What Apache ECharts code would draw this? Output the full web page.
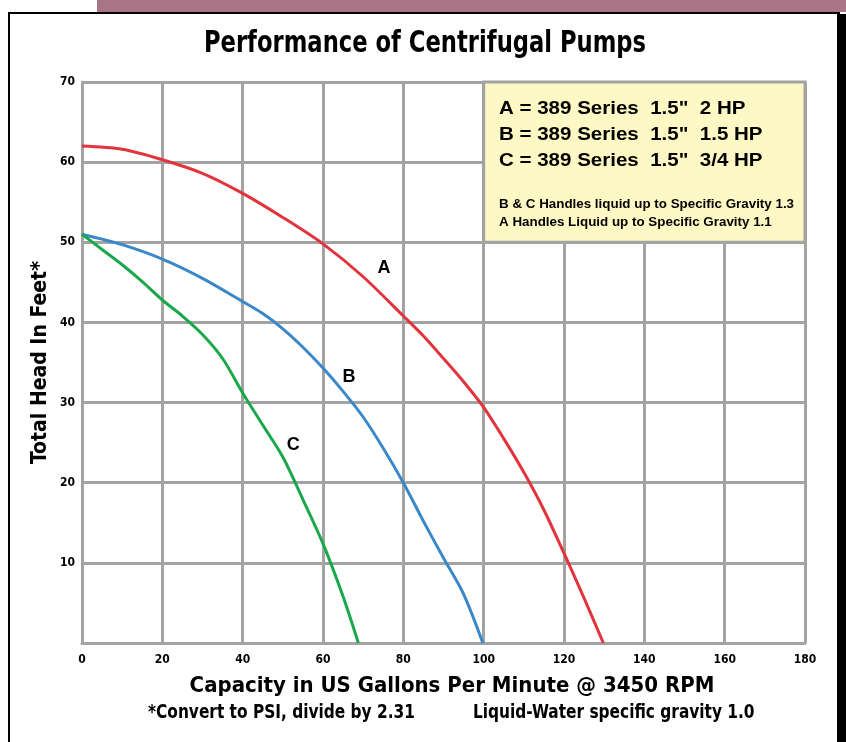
<!DOCTYPE html>
<html><head><meta charset="utf-8">
<script src="https://cdn.jsdelivr.net/npm/echarts@6/dist/echarts.min.js"></script>
<style>html,body{margin:0;padding:0;background:#fff}#c{width:846px;height:742px}</style>
</head><body><div id="c"></div><script>
// ---- data ----
const capA = [0, 10, 20, 30, 40, 50, 60, 70, 80, 85, 90, 95, 100, 105, 110, 115, 120, 125, 129.8];
const headA = [62.0, 61.6, 60.3, 58.6, 56.1, 53.1, 49.8, 45.7, 40.8, 38.3, 35.5, 32.6, 29.4, 25.5, 21.3, 16.6, 11.2, 5.6, 0];
const capB = [0, 10, 20, 30, 40, 45, 50, 55, 60, 65, 70, 75, 80, 85, 90, 95, 99.8];
const headB = [51.0, 49.7, 47.9, 45.5, 42.6, 41.1, 39.2, 36.9, 34.3, 31.4, 28.2, 24.3, 20.0, 15.2, 10.6, 6.1, 0];
const capC = [0, 5, 10, 15, 20, 25, 30, 35, 40, 45, 50, 55, 60, 65, 68.8];
const headC = [51.0, 49.1, 47.2, 45.1, 42.8, 40.8, 38.5, 35.5, 31.2, 27.2, 23.2, 17.9, 12.4, 5.8, 0];
const curveNames = ['A', 'B', 'C'];
const curveLabelPos = [[75.2, 46.8], [66.5, 33.2], [52.6, 24.7]];
const xTicks = [0, 20, 40, 60, 80, 100, 120, 140, 160, 180];
const yTicks = [0, 10, 20, 30, 40, 50, 60, 70];
const legendLines = ['A = 389 Series  1.5"  2 HP', 'B = 389 Series  1.5"  1.5 HP', 'C = 389 Series  1.5"  3/4 HP'];
const noteLines = ['B & C Handles liquid up to Specific Gravity 1.3', 'A Handles Liquid up to Specific Gravity 1.1'];
const boxRange = [[100, 50], [180, 70]];
const titleText = 'Performance of Centrifugal Pumps';
const xName = 'Capacity in US Gallons Per Minute @ 3450 RPM';
const yName = 'Total Head In Feet*';
const footNotes = ['*Convert to PSI, divide by 2.31', 'Liquid-Water specific gravity 1.0'];

// ---- styles ----
const COND = '"Liberation Sans Narrow", "DejaVu Sans Condensed", sans-serif';
const ARIAL = '"Liberation Sans", Arial, sans-serif';
const GRID = '#a3a3a3';
const colors = ['#e3333d', '#3b88c9', '#1aa84b'];

function pairs(xs, ys) { return xs.map((x, i) => [x, ys[i]]); }
const seriesData = [pairs(capA, headA), pairs(capB, headB), pairs(capC, headC)];

const chart = echarts.init(document.getElementById('c'), null, {renderer: 'canvas'});

const series = seriesData.map((d, i) => {
  const s = {
    name: curveNames[i], type: 'line', data: d, smooth: 0.3, showSymbol: false,
    lineStyle: {color: colors[i], width: 3}, itemStyle: {color: colors[i]}, z: 3,
    markPoint: {
      symbol: 'circle', symbolSize: 0, silent: true,
      label: {show: true, position: 'inside', formatter: curveNames[i], color: '#000',
              fontFamily: ARIAL, fontWeight: 'bold', fontSize: 18},
      data: [{name: curveNames[i], coord: curveLabelPos[i]}]
    }
  };
  if (i === 0) {
    s.markArea = {
      silent: true,
      itemStyle: {color: '#fef8c4', borderColor: GRID, borderWidth: 3},
      data: [[{coord: boxRange[0]}, {coord: boxRange[1]}]]
    };
  }
  return s;
});

const graphics = [
  {type: 'rect', shape: {x: 97, y: 0, width: 749, height: 12}, style: {fill: '#a87587'}, z: 10},
  {type: 'rect', shape: {x: 8, y: 12, width: 832, height: 2}, style: {fill: '#000'}, z: 10},
  {type: 'rect', shape: {x: 8, y: 12, width: 2, height: 730}, style: {fill: '#000'}, z: 10},
  {type: 'rect', shape: {x: 837, y: 14, width: 9, height: 728}, style: {fill: '#000'}, z: 10},
  {type: 'text', x: 425, y: 44, scaleX: 0.84, style: {text: titleText, font: 'bold 30px ' + COND, fill: '#000', textAlign: 'center', textVerticalAlign: 'middle'}, z: 10},
  {type: 'text', x: 148, y: 713, scaleX: 0.9, style: {text: footNotes[0], font: 'bold 19px ' + COND, fill: '#000', textAlign: 'left', textVerticalAlign: 'middle'}, z: 10},
  {type: 'text', x: 473, y: 713, scaleX: 0.9, style: {text: footNotes[1], font: 'bold 19px ' + COND, fill: '#000', textAlign: 'left', textVerticalAlign: 'middle'}, z: 10}
];
const legendY = [109, 135, 161];
legendLines.forEach((t, i) => graphics.push({type: 'text', x: 499, y: legendY[i], scaleX: 1.08, style: {text: t, font: 'bold 19px ' + ARIAL, fill: '#000', textAlign: 'left', textVerticalAlign: 'middle'}, z: 20}));
const noteY = [205, 223];
noteLines.forEach((t, i) => graphics.push({type: 'text', x: 499, y: noteY[i], scaleX: 1.07, style: {text: t, font: 'bold 12.5px ' + ARIAL, fill: '#000', textAlign: 'left', textVerticalAlign: 'middle'}, z: 20}));

chart.setOption({
  animation: false,
  backgroundColor: '#fff',
  grid: {left: 82, top: 82, right: 41, bottom: 99, containLabel: false},
  xAxis: {
    type: 'value', min: xTicks[0], max: xTicks[xTicks.length - 1], interval: 20,
    name: xName, nameLocation: 'middle', nameGap: 32,
    nameTextStyle: {fontFamily: COND, fontWeight: 'bold', fontSize: 22, color: '#000', padding: [0, 0, 0, 17]},
    axisLine: {show: true, lineStyle: {color: GRID, width: 3}},
    axisTick: {show: false},
    axisLabel: {color: '#000', fontFamily: COND, fontWeight: 'bold', fontSize: 12, margin: 11},
    splitLine: {show: true, lineStyle: {color: GRID, width: 3}}
  },
  yAxis: {
    type: 'value', min: yTicks[0], max: yTicks[yTicks.length - 1], interval: 10,
    name: yName, nameLocation: 'middle', nameGap: 31, nameRotate: 90, nameMoveOverlap: false,
    nameTextStyle: {fontFamily: COND, fontWeight: 'bold', fontSize: 21, color: '#000'},
    axisLine: {show: true, lineStyle: {color: GRID, width: 3}},
    axisTick: {show: false},
    axisLabel: {color: '#000', fontFamily: COND, fontWeight: 'bold', fontSize: 12, margin: 7,
                formatter: v => v === 0 ? '' : String(v)},
    splitLine: {show: true, lineStyle: {color: GRID, width: 3}}
  },
  series: series,
  graphic: graphics
});
</script></body></html>
